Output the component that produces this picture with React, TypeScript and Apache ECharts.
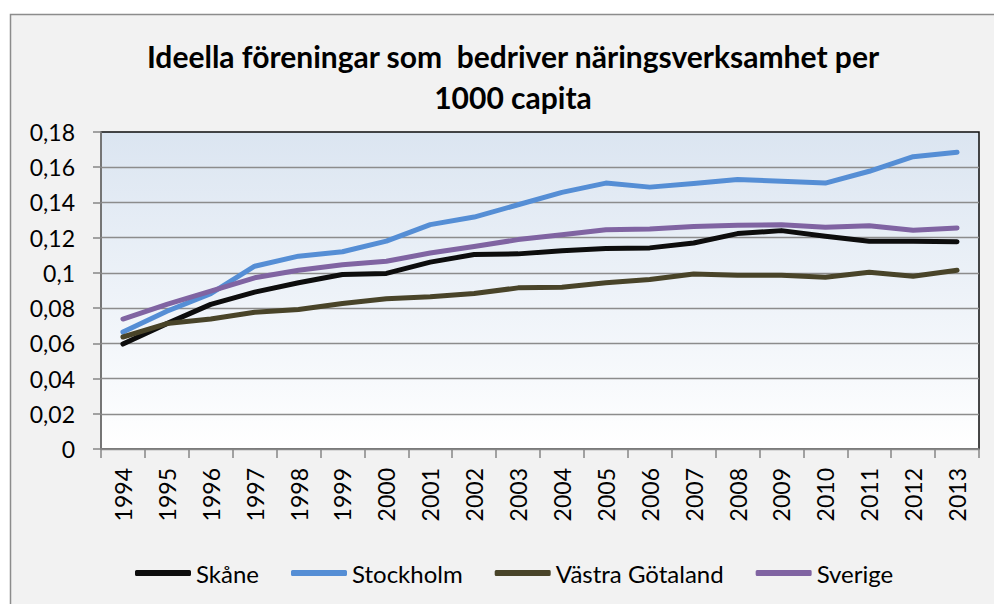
import React, { useEffect, useRef } from "react";
import * as echarts from "echarts";

const years = ["1994","1995","1996","1997","1998","1999","2000","2001","2002","2003","2004","2005","2006","2007","2008","2009","2010","2011","2012","2013"];
const skane = [0.0596, 0.0712, 0.0821, 0.0891, 0.0944, 0.0991, 0.0997, 0.1061, 0.1104, 0.1108, 0.1126, 0.1138, 0.1142, 0.117, 0.1223, 0.124, 0.1208, 0.118, 0.1179, 0.1177];
const stockholm = [0.0664, 0.0782, 0.0882, 0.1038, 0.1095, 0.112, 0.118, 0.1274, 0.1317, 0.1387, 0.1457, 0.151, 0.1487, 0.1507, 0.153, 0.152, 0.151, 0.1577, 0.166, 0.1685];
const vastraGotaland = [0.0636, 0.0712, 0.0738, 0.0777, 0.0792, 0.0826, 0.0853, 0.0864, 0.0883, 0.0915, 0.0919, 0.0944, 0.0962, 0.0994, 0.0987, 0.0987, 0.0975, 0.1004, 0.0981, 0.1015];
const sverige = [0.0738, 0.0821, 0.0897, 0.0972, 0.1015, 0.1046, 0.1066, 0.1113, 0.115, 0.1189, 0.1217, 0.1245, 0.1249, 0.1264, 0.127, 0.1274, 0.1259, 0.1268, 0.1242, 0.1255];

const seriesNames = ["Skåne", "Stockholm", "Västra Götaland", "Sverige"];
const seriesData = [skane, stockholm, vastraGotaland, sverige];
const seriesColors = ["#0d0d0d", "#558ed5", "#494429", "#8064a2"];

const titleText = "Ideella föreningar som  bedriver näringsverksamhet per\n1000 capita";
const FONT = "Lato, 'Open Sans', sans-serif";

export default function App() {
  const ref = useRef<HTMLDivElement>(null);
  useEffect(() => {
    if (!ref.current) return;
    const chart = echarts.init(ref.current, undefined, { renderer: "svg" });
    chart.setOption({
      animation: false,
      backgroundColor: "#ffffff",
      textStyle: { fontFamily: FONT },
      graphic: [
        {
          type: "rect",
          z: -100,
          silent: true,
          shape: { x: 10.5, y: 14.5, width: 1100, height: 800 },
          style: { fill: "#f2f2f2", stroke: "#8c8c8c", lineWidth: 1.5 },
        },
      ],
      title: {
        text: titleText,
        left: 508,
        top: 30,
        textAlign: "center",
        textStyle: {
          fontFamily: FONT,
          fontWeight: "bold",
          fontSize: 30,
          lineHeight: 41,
          color: "#000000",
        },
      },
      legend: {
        left: 130,
        top: 556,
        icon: "roundRect",
        itemWidth: 56,
        itemHeight: 6,
        itemGap: 32,
        textStyle: { fontFamily: FONT, fontSize: 24, color: "#000" },
        data: seriesNames,
      },
      grid: {
        left: 101,
        top: 132,
        width: 878,
        height: 317,
        show: true,
        borderColor: "#0d0d0d",
        borderWidth: 1.5,
        backgroundColor: new echarts.graphic.LinearGradient(0, 0, 0, 1, [
          { offset: 0, color: "#dbe5f1" },
          { offset: 1, color: "#ffffff" },
        ]),
      },
      xAxis: {
        type: "category",
        data: years,
        boundaryGap: true,
        axisLine: { show: true, lineStyle: { color: "#868686", width: 1.5 } },
        axisTick: { show: true, length: 9, alignWithLabel: false, lineStyle: { color: "#868686", width: 1.5 } },
        axisLabel: {
          rotate: 90,
          margin: 19,
          fontFamily: FONT,
          fontSize: 23,
          color: "#000",
          interval: 0,
        },
        splitLine: { show: false },
      },
      yAxis: {
        type: "value",
        min: 0,
        max: 0.18,
        interval: 0.02,
        axisLine: { show: true, lineStyle: { color: "#868686", width: 1.5 } },
        axisTick: { show: true, length: 8, lineStyle: { color: "#868686", width: 1.5 } },
        axisLabel: {
          margin: 26,
          fontFamily: FONT,
          fontSize: 23,
          color: "#000",
          formatter: (v: number) => String(+v.toFixed(2)).replace(".", ","),
        },
        splitLine: { show: true, showMaxLine: false, lineStyle: { color: "#8c8c8c", width: 1.3 } },
      },
      series: seriesNames.map((name, i) => ({
        name,
        type: "line",
        data: seriesData[i],
        symbol: "none",
        color: seriesColors[i],
        lineStyle: { width: 5, color: seriesColors[i], cap: "round", join: "round" },
      })),
    });
    return () => chart.dispose();
  }, []);
  return (
    <div
      ref={ref}
      style={{ position: "fixed", left: 0, top: 0, width: 994, height: 604 }}
    />
  );
}
